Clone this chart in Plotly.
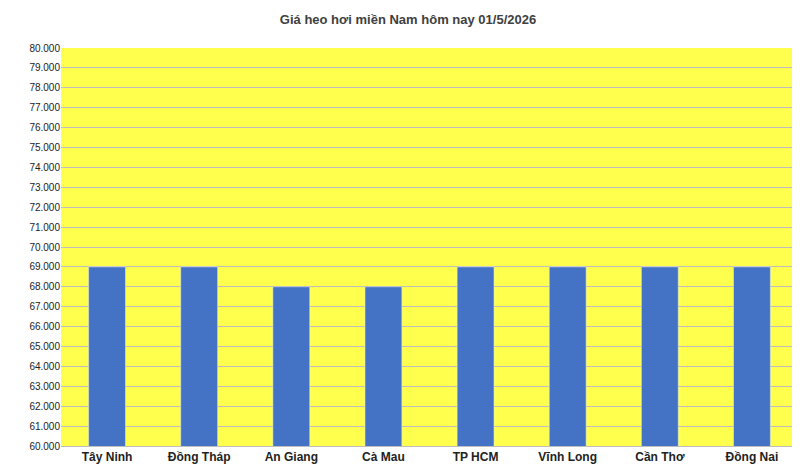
import plotly.graph_objects as go

provinces = ["Tây Ninh", "Đồng Tháp", "An Giang", "Cà Mau", "TP HCM", "Vĩnh Long", "Cần Thơ", "Đồng Nai"]
prices = [69000, 69000, 68000, 68000, 69000, 69000, 69000, 69000]
tick_values = list(range(60000, 80001, 1000))

fig = go.Figure(
    go.Bar(x=provinces, y=prices, marker_color="#4472C4", width=0.4)
)
fig.update_layout(
    title=dict(text="<b>Giá heo hơi miền Nam hôm nay 01/5/2026</b>", x=0.5, y=0.985,
               yanchor="top", xanchor="center", font=dict(size=13, color="#404040")),
    width=800, height=469,
    margin=dict(l=53, r=10, t=40, b=31),
    plot_bgcolor="#FFFF4D",
    paper_bgcolor="white",
    separators=",.",
    font=dict(family="Liberation Sans", size=10, color="#222222"),
    showlegend=False,
)
fig.update_yaxes(range=[60000, 80000], tickvals=tick_values, tickformat=",.0f",
                 showgrid=True, gridcolor="#BFBFBF", gridwidth=1, zeroline=False,
                 automargin=False, tickfont=dict(size=10))
fig.update_xaxes(tickfont=dict(size=12, color="#222222"), showline=True,
                 linecolor="#BFBFBF", ticks="", automargin=False,
                 tickvals=provinces, ticktext=[f"<b>{p}</b>" for p in provinces])
fig.write_html("out.html")
